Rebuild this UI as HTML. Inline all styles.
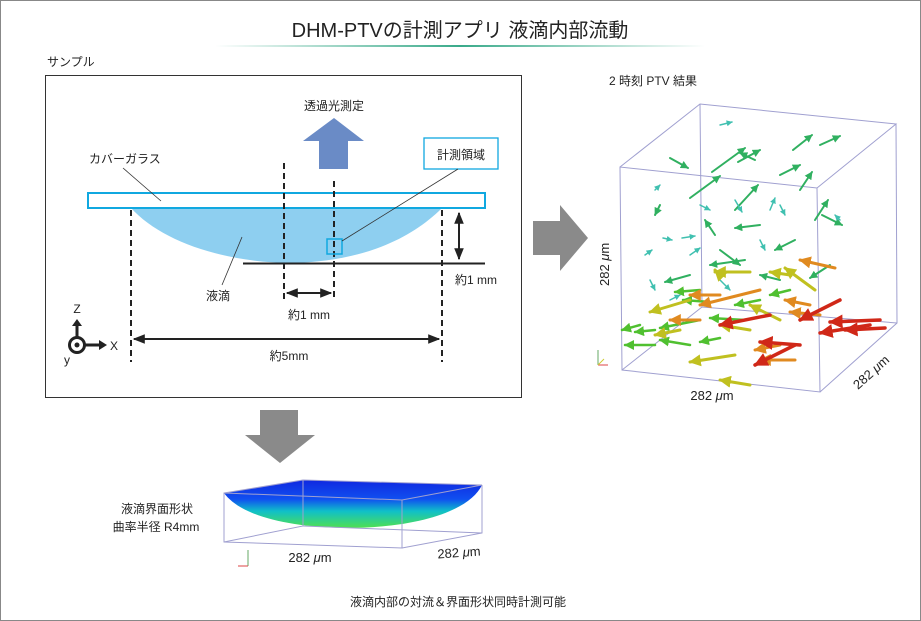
<!DOCTYPE html>
<html><head><meta charset="utf-8"><style>
html,body{margin:0;padding:0;background:#fff}
svg{display:block}
text{font-family:"Liberation Sans","Noto Sans CJK JP",sans-serif;fill:#222}
</style></head><body>
<svg width="921" height="621" viewBox="0 0 921 621" xmlns="http://www.w3.org/2000/svg">
<defs>
<linearGradient id="ul" x1="0" x2="1"><stop offset="0" stop-color="#3aaa8a" stop-opacity="0"/><stop offset="0.5" stop-color="#3aaa8a"/><stop offset="1" stop-color="#3aaa8a" stop-opacity="0"/></linearGradient>
<linearGradient id="surf" x1="0" y1="0" x2="0" y2="1"><stop offset="0" stop-color="#1028e0"/><stop offset="0.4" stop-color="#1050f0"/><stop offset="0.65" stop-color="#10c0c8"/><stop offset="1" stop-color="#50e050"/></linearGradient>
<marker id="ah" viewBox="0 0 10 10" refX="9" refY="5" markerWidth="4" markerHeight="4" orient="auto-start-reverse"><path d="M0,0L10,5L0,10z" fill="context-stroke"/></marker>
<marker id="bk" viewBox="0 0 10 10" refX="9" refY="5" markerWidth="6" markerHeight="6" orient="auto-start-reverse"><path d="M0,1L10,5L0,9z" fill="#222"/></marker>
</defs>
<rect x="0.5" y="0.5" width="920" height="620" fill="#fff" stroke="#888"/>
<text x="460" y="37" font-size="20" text-anchor="middle">DHM-PTVの計測アプリ 液滴内部流動</text>
<rect x="215" y="45" width="490" height="2" fill="url(#ul)"/>
<text x="47" y="66" font-size="12">サンプル</text>

<rect x="45.5" y="75.5" width="476" height="322" fill="#fff" stroke="#333"/>
<text x="334" y="110" font-size="12" text-anchor="middle">透過光測定</text>
<path d="M334,118L364,141L348,141L348,169L319,169L319,141L303,141z" fill="#6a8bc6"/>
<path d="M131,208L442,208C410,240 360,262 290,263C220,262 160,240 131,208z" fill="#8ecff0"/>
<line x1="243" y1="263.5" x2="485" y2="263.5" stroke="#222" stroke-width="2"/>
<rect x="88" y="193" width="397" height="15" fill="none" stroke="#10a8e0" stroke-width="2"/>
<g stroke="#222" stroke-width="2" stroke-dasharray="6,4">
<line x1="131" y1="210" x2="131" y2="362"/><line x1="442" y1="210" x2="442" y2="362"/>
<line x1="284" y1="163" x2="284" y2="301"/><line x1="334" y1="181" x2="334" y2="301"/>
</g>
<rect x="327" y="239" width="15" height="15" fill="none" stroke="#10a8e0" stroke-width="1.5"/>
<rect x="424" y="138" width="74" height="31" fill="#fff" stroke="#10a8e0" stroke-width="1.3"/>
<text x="461" y="159" font-size="12" text-anchor="middle">計測領域</text>
<line x1="458" y1="169" x2="342" y2="241" stroke="#333" stroke-width="0.8"/>
<text x="89" y="163" font-size="12">カバーガラス</text>
<line x1="123" y1="168" x2="161" y2="201" stroke="#333" stroke-width="0.8"/>
<text x="218" y="300" font-size="12" text-anchor="middle">液滴</text>
<line x1="222" y1="285" x2="242" y2="237" stroke="#333" stroke-width="0.8"/>
<line x1="459" y1="213" x2="459" y2="259" stroke="#222" stroke-width="2" marker-start="url(#bk)" marker-end="url(#bk)"/>
<text x="455" y="284" font-size="12">約1 mm</text>
<line x1="287" y1="293" x2="331" y2="293" stroke="#222" stroke-width="2" marker-start="url(#bk)" marker-end="url(#bk)"/>
<text x="309" y="319" font-size="12" text-anchor="middle">約1 mm</text>
<line x1="134" y1="339" x2="439" y2="339" stroke="#222" stroke-width="2" marker-start="url(#bk)" marker-end="url(#bk)"/>
<text x="289" y="360" font-size="12" text-anchor="middle">約5mm</text>
<circle cx="77" cy="345" r="7.5" fill="#fff" stroke="#222" stroke-width="3"/><circle cx="77" cy="345" r="2.5" fill="#222"/>
<line x1="77" y1="337" x2="77" y2="325" stroke="#222" stroke-width="3"/><path d="M72,326L82,326L77,319z" fill="#222"/>
<line x1="85" y1="345" x2="100" y2="345" stroke="#222" stroke-width="3"/><path d="M99,340L99,350L107,345z" fill="#222"/>
<text x="77" y="313" font-size="12" text-anchor="middle">Z</text>
<text x="110" y="350" font-size="12">X</text>
<text x="64" y="364" font-size="12">y</text>

<path d="M533,221L560,221L560,205L588,238L560,271L560,255L533,255z" fill="#8a8a8a"/>
<path d="M260,410L298,410L298,435L315,435L280,463L245,435L260,435z" fill="#8a8a8a"/>

<text x="609" y="85" font-size="12">2 時刻 PTV 結果</text>
<g stroke="#a0a0d0" stroke-width="1" fill="none">
<path d="M620,167L700,104L896,124L817,188L620,167L622,370L820,392L817,188"/>
<path d="M820,392L897,323L896,124"/>
<path d="M700,104L702,307L622,370M702,307L897,323"/>
</g>
<g fill="none" stroke-linecap="round">
<g stroke="#30b060" stroke-width="2" marker-end="url(#ah)">
<path d="M670,158L688,168"/><path d="M712,172L745,148"/><path d="M755,160L740,153"/><path d="M738,162L760,150"/><path d="M793,150L812,135"/><path d="M820,145L840,136"/><path d="M780,175L800,165"/><path d="M690,198L720,176"/><path d="M735,210L758,185"/><path d="M800,190L812,172"/><path d="M815,220L828,200"/><path d="M822,215L842,225"/><path d="M760,225L735,228"/><path d="M715,235L705,220"/><path d="M745,260L710,265"/><path d="M795,240L775,250"/><path d="M720,250L740,265"/><path d="M690,275L665,282"/><path d="M830,265L810,278"/><path d="M660,205L655,215"/><path d="M780,280L760,275"/>
</g>
<g stroke="#40c0b0" stroke-width="1.5" marker-end="url(#ah)">
<path d="M720,125L732,122"/><path d="M655,190L660,185"/><path d="M700,205L710,210"/><path d="M735,200L742,212"/><path d="M770,210L775,198"/><path d="M663,238L672,240"/><path d="M682,238L695,236"/><path d="M690,255L700,248"/><path d="M650,280L655,290"/><path d="M760,240L765,250"/><path d="M780,205L785,215"/><path d="M720,280L730,290"/><path d="M840,220L835,215"/><path d="M645,255L652,250"/><path d="M670,300L680,295"/>
</g>
<g stroke="#50c030" stroke-width="2.5" marker-end="url(#ah)">
<path d="M700,290L675,292"/><path d="M710,302L683,300"/><path d="M640,325L622,330"/><path d="M655,330L635,332"/><path d="M700,320L660,328"/><path d="M760,300L735,305"/><path d="M745,320L710,318"/><path d="M690,345L660,340"/><path d="M655,345L625,345"/><path d="M720,338L700,342"/><path d="M790,290L770,295"/>
</g>
<g stroke="#c0c020" stroke-width="3" marker-end="url(#ah)">
<path d="M720,275L715,270"/><path d="M750,272L715,272"/><path d="M790,275L770,272"/><path d="M815,290L785,268"/><path d="M680,330L655,335"/><path d="M750,330L720,325"/><path d="M735,355L690,362"/><path d="M750,385L720,380"/><path d="M690,300L650,312"/><path d="M780,320L750,305"/>
</g>
<g stroke="#e08a20" stroke-width="3" marker-end="url(#ah)">
<path d="M835,268L800,260"/><path d="M720,295L690,295"/><path d="M760,290L700,305"/><path d="M810,305L785,300"/><path d="M820,315L790,312"/><path d="M780,345L755,350"/><path d="M700,320L670,320"/><path d="M795,360L760,360"/>
</g>
<g stroke="#d02818" stroke-width="3.5" marker-end="url(#ah)">
<path d="M840,300L800,320"/><path d="M870,325L820,333"/><path d="M880,320L830,322"/><path d="M770,315L720,325"/><path d="M800,345L760,342"/><path d="M795,345L755,365"/><path d="M885,328L845,330"/>
</g>
</g>
<g stroke-width="1"><line x1="598" y1="365" x2="598" y2="350" stroke="#6a6"/><line x1="598" y1="365" x2="608" y2="365" stroke="#d44"/><line x1="598" y1="365" x2="604" y2="359" stroke="#cc3"/></g>
<text x="0" y="0" font-size="13" transform="translate(609,286) rotate(-90)">282 <tspan font-style="italic">μ</tspan>m</text>
<text x="712" y="400" font-size="13" text-anchor="middle">282 <tspan font-style="italic">μ</tspan>m</text>
<text x="0" y="0" font-size="13" transform="translate(858,390) rotate(-42)">282 <tspan font-style="italic">μ</tspan>m</text>

<text x="157" y="513" font-size="12" text-anchor="middle">液滴界面形状</text>
<text x="156" y="531" font-size="12" text-anchor="middle">曲率半径 R4mm</text>
<path d="M224,493L303,480L482,485C470,510 420,528 345,528C285,527 240,515 224,493z" fill="url(#surf)"/>
<g stroke="#a0a0d0" fill="none" stroke-width="1">
<path d="M224,493L303,480L482,485L402,500L224,493L224,542L402,548L402,500M402,548L482,533L482,485M303,480L303,526L224,542M303,526L482,533"/>
</g>
<g stroke-width="1"><line x1="248" y1="566" x2="248" y2="550" stroke="#6a6"/><line x1="248" y1="566" x2="238" y2="566" stroke="#d44"/></g>
<text x="310" y="562" font-size="13" text-anchor="middle">282 <tspan font-style="italic">μ</tspan>m</text>
<text x="459" y="557" font-size="13" text-anchor="middle" transform="rotate(-4 459 553)">282 <tspan font-style="italic">μ</tspan>m</text>
<text x="458" y="606" font-size="12" text-anchor="middle">液滴内部の対流＆界面形状同時計測可能</text>
</svg>
</body></html>
